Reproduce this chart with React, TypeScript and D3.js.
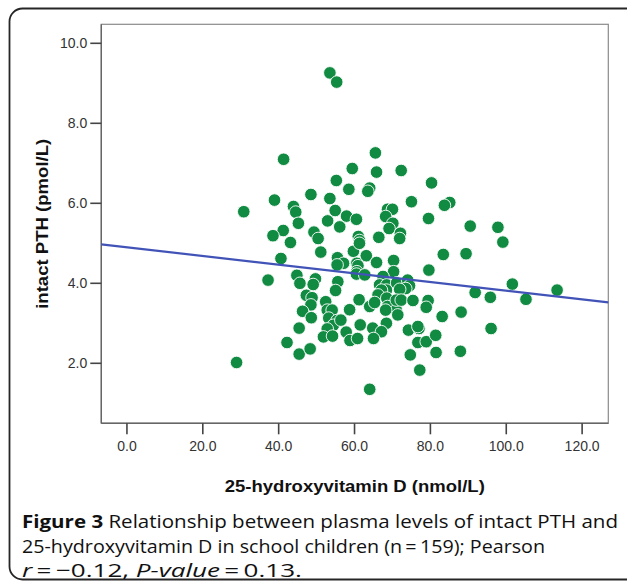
import React from 'react';
import * as d3 from 'd3';

const xTicks = [0, 20, 40, 60, 80, 100, 120];
const yTicks = [2, 4, 6, 8, 10];

const vitD = [
  53.5, 55.3, 41.3, 65.5, 59.4, 65.8, 72.3, 55.2, 80.3, 58.5,
  64.0, 63.5, 48.5, 38.9, 53.5, 75.0, 85.1, 83.7, 43.9, 44.5,
  30.8, 54.9, 68.7, 70.0, 57.9, 60.5, 68.2, 79.5, 45.2, 52.9,
  70.1, 56.1, 69.1, 90.5, 97.8, 41.2, 49.3, 72.1, 38.5, 50.4,
  71.9, 61.0, 61.3, 66.4, 99.1, 43.1, 51.1, 59.7, 63.1, 65.8,
  70.3, 83.4, 89.4, 40.6, 55.5, 57.1, 55.4, 60.6, 60.9, 79.6,
  70.3, 60.6, 60.5, 37.2, 44.8, 45.6, 49.7, 49.1, 55.6, 55.0,
  62.7, 67.5, 66.6, 68.5, 71.1, 74.0, 74.5, 73.5, 71.9, 68.4,
  67.1, 66.2, 91.8, 95.8, 101.6, 105.2, 113.4, 47.3, 48.8, 48.5,
  46.3, 48.6, 52.4, 52.8, 54.1, 53.2, 55.4, 54.4, 52.8, 51.8,
  54.2, 56.4, 58.7, 61.2, 57.8, 58.8, 60.8, 61.5, 45.4, 42.2,
  45.4, 48.3, 28.9, 64.0, 65.3, 68.5, 68.7, 71.0, 71.4, 68.2,
  68.4, 71.0, 72.3, 75.4, 79.4, 78.9, 83.1, 88.1, 64.8, 67.1,
  65.0, 74.2, 77.0, 76.7, 78.9, 81.4, 96.0, 74.7, 81.5, 87.9,
  77.2, 64.0, 61.3, 76.7
];
const pth = [
  9.26, 9.03, 7.10, 7.26, 6.87, 6.78, 6.82, 6.57, 6.51, 6.35,
  6.38, 6.30, 6.22, 6.08, 6.12, 6.04, 6.02, 5.95, 5.92, 5.78,
  5.79, 5.82, 5.85, 5.85, 5.68, 5.60, 5.67, 5.62, 5.50, 5.56,
  5.50, 5.41, 5.37, 5.43, 5.40, 5.32, 5.28, 5.25, 5.19, 5.12,
  5.12, 5.17, 5.07, 5.15, 5.03, 5.02, 4.78, 4.80, 4.69, 4.52,
  4.57, 4.72, 4.74, 4.62, 4.64, 4.50, 4.46, 4.50, 4.44, 4.33,
  4.29, 4.29, 4.23, 4.08, 4.20, 4.00, 4.11, 3.97, 4.04, 3.82,
  4.21, 4.17, 3.96, 3.96, 4.01, 4.08, 3.94, 3.87, 3.85, 3.83,
  3.83, 3.71, 3.77, 3.65, 3.98, 3.60, 3.83, 3.70, 3.64, 3.46,
  3.30, 3.14, 3.54, 3.33, 3.33, 3.13, 3.07, 2.95, 2.86, 2.66,
  2.68, 3.08, 3.34, 3.59, 2.78, 2.57, 2.62, 2.96, 2.88, 2.52,
  2.23, 2.36, 2.02, 3.42, 3.52, 3.63, 3.42, 3.33, 3.21, 3.33,
  3.00, 3.58, 3.58, 3.57, 3.57, 3.40, 3.17, 3.28, 2.88, 2.79,
  2.62, 2.83, 2.87, 2.52, 2.54, 2.70, 2.87, 2.21, 2.27, 2.30,
  1.83, 1.35, 5.00, 2.92
];

const regIntercept = 4.9;
const regSlope = -0.01085;

const captionLine2 = '25-hydroxyvitamin D in school children (n\u2009=\u2009159); Pearson';

export default function App() {
  const W = 627;
  const H = 581;
  const left = 101.3, right = 608.3, top = 24.3, bottom = 423.3;
  const x = d3.scaleLinear().domain([-6.76, 126.9]).range([left, right]);
  const y = d3.scaleLinear().domain([0.5, 10.475]).range([bottom, top]);
  const [x0, x1] = x.domain();
  const line = d3.line<number>().x((d) => x(d)).y((d) => y(regIntercept + regSlope * d));
  const fmt = d3.format('.1f');
  const tickFont = "'Liberation Sans', Arial, sans-serif";
  const capFont = "'Open Sans', 'Noto Sans', sans-serif";

  return (
    <svg width={W} height={H} viewBox={`0 0 ${W} ${H}`} style={{ position: 'absolute', left: 0, top: 0, background: '#fff' }}>
      <rect x={0} y={0} width={W} height={H} fill="#fff" />
      <rect x={9.5} y={8.5} width={640} height={571} rx={13} ry={13} fill="none" stroke="#262626" strokeWidth={1.8} />
      <rect x={left} y={top} width={right - left} height={bottom - top} fill="#fff" stroke="#8a8a8a" strokeWidth={1.2} />
      <line x1={left} y1={top} x2={left} y2={bottom} stroke="#666" strokeWidth={1.4} />
      <line x1={left} y1={bottom} x2={right} y2={bottom} stroke="#666" strokeWidth={1.4} />
      {yTicks.map((t) => (
        <g key={'y' + t}>
          <line x1={left - 11} x2={left} y1={y(t)} y2={y(t)} stroke="#444" strokeWidth={1.6} />
          <text x={left - 14} y={y(t)} dy="0.36em" textAnchor="end" fontFamily={tickFont} fontSize={14} fill="#333">{fmt(t)}</text>
        </g>
      ))}
      {xTicks.map((t) => (
        <g key={'x' + t}>
          <line x1={x(t)} x2={x(t)} y1={bottom} y2={bottom + 11} stroke="#444" strokeWidth={1.6} />
          <text x={x(t)} y={451} textAnchor="middle" fontFamily={tickFont} fontSize={14} fill="#333">{fmt(t)}</text>
        </g>
      ))}
      <text x={(left + right) / 2} y={492} textAnchor="middle" fontFamily={tickFont} fontWeight="bold" fontSize={17} textLength={260} lengthAdjust="spacingAndGlyphs" fill="#111">25-hydroxyvitamin D (nmol/L)</text>
      <text transform={`translate(48,${(top + bottom) / 2}) rotate(-90)`} textAnchor="middle" fontFamily={tickFont} fontWeight="bold" fontSize={17} textLength={170} lengthAdjust="spacingAndGlyphs" fill="#111">intact PTH (pmol/L)</text>
      <g>
        {vitD.map((v, i) => (
          <circle key={i} cx={x(v)} cy={y(pth[i])} r={6.3} fill="#118a42" stroke="#ffffff" strokeWidth={0.9} />
        ))}
      </g>
      <path d={line([x0, x1]) || ''} fill="none" stroke="#4253b8" strokeWidth={2.2} />
      <text x={22} y={528} fontFamily={capFont} fontSize={18.5} fill="#111" textLength={596} lengthAdjust="spacingAndGlyphs">
        <tspan fontWeight="bold">Figure 3</tspan> Relationship between plasma levels of intact PTH and
      </text>
      <text x={22} y={553} fontFamily={capFont} fontSize={18.5} fill="#111" textLength={523} lengthAdjust="spacingAndGlyphs">{captionLine2}</text>
      <text x={22} y={577} fontFamily={capFont} fontSize={18.5} fill="#111" textLength={280} lengthAdjust="spacingAndGlyphs">
        <tspan fontStyle="italic">r</tspan>{'\u2009=\u2009\u22120.12, '}<tspan fontStyle="italic">P-value</tspan>{'\u2009=\u20090.13.'}
      </text>
    </svg>
  );
}
